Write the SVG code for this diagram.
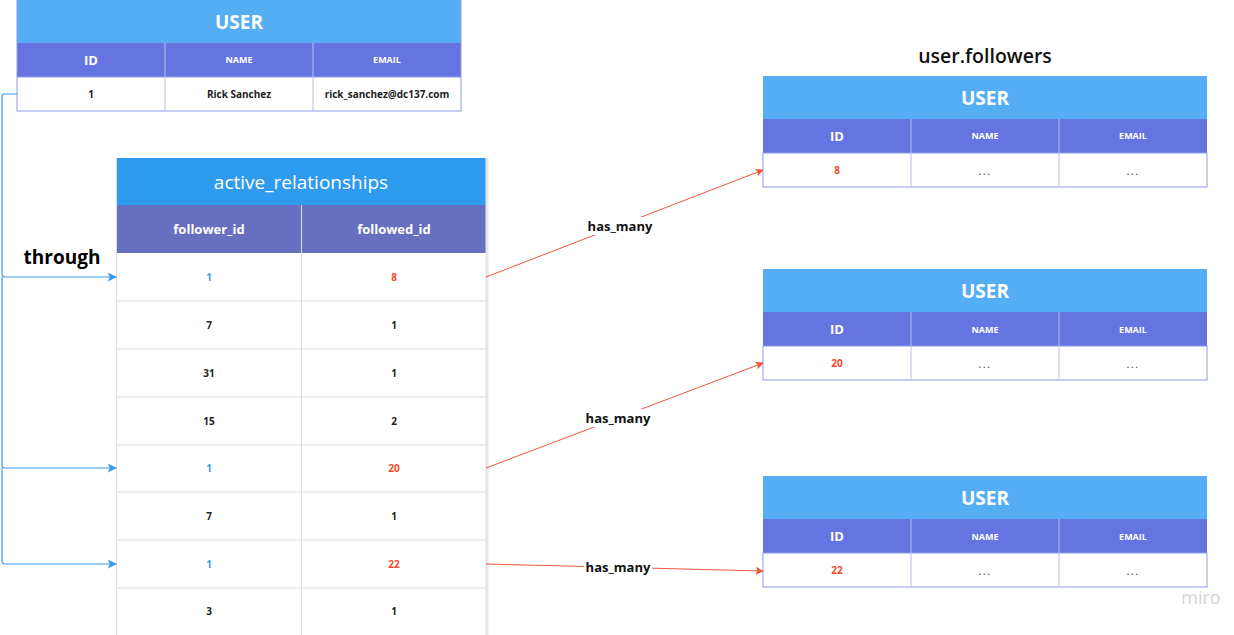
<svg xmlns="http://www.w3.org/2000/svg" width="1234" height="635" viewBox="0 0 1234 635">
<defs>
<style>
text{font-family:"Open Sans","Liberation Sans",sans-serif;text-anchor:middle;dominant-baseline:central}
.ut{fill:#55adf3}
.uh{fill:#6574e0}
.ub{fill:#fff;stroke:#8f99ea;stroke-width:1}
.ug{stroke:#b9bff2;stroke-width:1}
.ttl{fill:#fff;font-size:19px;font-weight:700}
.hid{fill:#fff;font-size:13px;font-weight:700}
.hs{fill:#fff;font-size:9px;font-weight:700}
.d{fill:#222;font-size:10px;font-weight:700}
.dots{fill:#444;font-size:11px;letter-spacing:1.5px}
.red{fill:#f2492a}
.blue{fill:#3d9ae8}
.ag{stroke:#dcdcdc;stroke-width:1}
.ah{fill:#fff;font-size:13px;font-weight:700}
.lbl{fill:#111;font-size:13px;font-weight:700}
.rl{stroke:#f2553a;stroke-width:1;fill:none}
.bl{stroke:#3b9cec;stroke-width:1.2;fill:none}
</style>
<marker id="ar" viewBox="0 0 10 10" refX="9" refY="5" markerWidth="8" markerHeight="8" orient="auto" markerUnits="userSpaceOnUse"><path d="M0,0 L10,5 L0,10 L2,5 z" fill="#f2553a"/></marker>
<marker id="ab" viewBox="0 0 10 10" refX="9" refY="5" markerWidth="9" markerHeight="9" orient="auto" markerUnits="userSpaceOnUse"><path d="M0,0 L10,5 L0,10 L2,5 z" fill="#3b9cec"/></marker>
</defs>
<rect width="1234" height="635" fill="#fff"/>

<g id="user-top">
<rect class="ut" x="17" y="0" width="444" height="43"/>
<rect class="uh" x="17" y="43" width="444" height="34"/>
<rect class="ub" x="17" y="77" width="444" height="34"/>
<line class="ug" x1="165" y1="43" x2="165" y2="111"/>
<line class="ug" x1="313" y1="43" x2="313" y2="111"/>
<line x1="17" y1="0" x2="17" y2="77" stroke="#8f99ea"/>
<line x1="461" y1="0" x2="461" y2="77" stroke="#8f99ea"/>
<text class="ttl" x="239" y="22">USER</text>
<text class="hid" x="91" y="60">ID</text>
<text class="hs" x="239" y="59">NAME</text>
<text class="hs" x="387" y="59">EMAIL</text>
<text class="d" x="91" y="94">1</text>
<text class="d" x="239" y="94">Rick Sanchez</text>
<text class="d" x="387" y="94">rick_sanchez@dc137.com</text>
</g>

<g id="active-relationships">
<rect x="116" y="158" width="370" height="47" fill="#2e9bef"/>
<rect x="116" y="205" width="370" height="48" fill="#676fc0"/>
<rect x="116" y="253" width="370" height="382" fill="#fff"/>
<line x1="116.5" y1="158" x2="116.5" y2="635" stroke="#dcdcdc"/>
<line x1="487" y1="158" x2="487" y2="635" stroke="#e6e6e6" stroke-width="3"/>
<line x1="301.5" y1="205" x2="301.5" y2="635" stroke="#dcdcdc"/>
<line class="ag" x1="116" y1="301" x2="486" y2="301"/>
<line class="ag" x1="116" y1="349" x2="486" y2="349"/>
<line class="ag" x1="116" y1="397" x2="486" y2="397"/>
<line class="ag" x1="116" y1="445" x2="486" y2="445"/>
<line class="ag" x1="116" y1="492" x2="486" y2="492"/>
<line class="ag" x1="116" y1="540" x2="486" y2="540"/>
<line class="ag" x1="116" y1="588" x2="486" y2="588"/>
<text x="301" y="182" fill="#fff" font-size="19">active_relationships</text>
<text class="ah" x="209" y="229">follower_id</text>
<text class="ah" x="394" y="229">followed_id</text>
<text class="d blue" x="209" y="277">1</text><text class="d red" x="394" y="277">8</text>
<text class="d" x="209" y="325">7</text><text class="d" x="394" y="325">1</text>
<text class="d" x="209" y="373">31</text><text class="d" x="394" y="373">1</text>
<text class="d" x="209" y="421">15</text><text class="d" x="394" y="421">2</text>
<text class="d blue" x="209" y="468">1</text><text class="d red" x="394" y="468">20</text>
<text class="d" x="209" y="516">7</text><text class="d" x="394" y="516">1</text>
<text class="d blue" x="209" y="564">1</text><text class="d red" x="394" y="564">22</text>
<text class="d" x="209" y="611">3</text><text class="d" x="394" y="611">1</text>
</g>

<g id="followers-title">
<text x="985" y="55" fill="#111" font-size="19.5" font-weight="600">user.followers</text>
</g>

<g id="user-8">
<rect class="ut" x="763" y="76" width="444" height="43"/>
<rect class="uh" x="763" y="119" width="444" height="34"/>
<rect class="ub" x="763" y="153" width="444" height="34"/>
<line class="ug" x1="911" y1="119" x2="911" y2="187"/>
<line class="ug" x1="1059" y1="119" x2="1059" y2="187"/>
<text class="ttl" x="985" y="98">USER</text>
<text class="hid" x="837" y="136">ID</text>
<text class="hs" x="985" y="135">NAME</text>
<text class="hs" x="1133" y="135">EMAIL</text>
<text class="d red" x="837" y="170">8</text>
<text class="dots" x="985" y="170">...</text>
<text class="dots" x="1133" y="170">...</text>
</g>

<g id="user-20">
<rect class="ut" x="763" y="269" width="444" height="43"/>
<rect class="uh" x="763" y="312" width="444" height="34"/>
<rect class="ub" x="763" y="346" width="444" height="34"/>
<line class="ug" x1="911" y1="312" x2="911" y2="380"/>
<line class="ug" x1="1059" y1="312" x2="1059" y2="380"/>
<text class="ttl" x="985" y="291">USER</text>
<text class="hid" x="837" y="329">ID</text>
<text class="hs" x="985" y="329">NAME</text>
<text class="hs" x="1133" y="329">EMAIL</text>
<text class="d red" x="837" y="363">20</text>
<text class="dots" x="985" y="363">...</text>
<text class="dots" x="1133" y="363">...</text>
</g>

<g id="user-22">
<rect class="ut" x="763" y="476" width="444" height="43"/>
<rect class="uh" x="763" y="519" width="444" height="34"/>
<rect class="ub" x="763" y="553" width="444" height="34"/>
<line class="ug" x1="911" y1="519" x2="911" y2="587"/>
<line class="ug" x1="1059" y1="519" x2="1059" y2="587"/>
<text class="ttl" x="985" y="498">USER</text>
<text class="hid" x="837" y="536">ID</text>
<text class="hs" x="985" y="536">NAME</text>
<text class="hs" x="1133" y="536">EMAIL</text>
<text class="d red" x="837" y="570">22</text>
<text class="dots" x="985" y="570">...</text>
<text class="dots" x="1133" y="570">...</text>
</g>

<g id="connectors">
<path class="bl" d="M17,94 H5 Q2,94 2,97 V274 Q2,277 5,277 H116" marker-end="url(#ab)"/>
<path class="bl" d="M2,277 V465 Q2,468 5,468 H116" marker-end="url(#ab)"/>
<path class="bl" stroke="#7dbdf2" d="M2,468 V561 Q2,564 5,564 H116" marker-end="url(#ab)"/>
<text x="62" y="257" fill="#000" font-size="19" font-weight="700">through</text>

<line class="rl" x1="486" y1="277" x2="763" y2="170" marker-end="url(#ar)"/>
<rect x="586" y="217" width="68" height="18" fill="#fff"/>
<text class="lbl" x="620" y="226">has_many</text>

<line class="rl" x1="486" y1="468" x2="763" y2="363" marker-end="url(#ar)"/>
<rect x="584" y="409" width="68" height="18" fill="#fff"/>
<text class="lbl" x="618" y="418">has_many</text>

<line class="rl" x1="486" y1="564" x2="763" y2="571" marker-end="url(#ar)"/>
<rect x="584" y="558" width="68" height="18" fill="#fff"/>
<text class="lbl" x="618" y="567">has_many</text>
</g>

<text x="1201" y="597" fill="#d2d2d6" font-size="18">miro</text>
</svg>
